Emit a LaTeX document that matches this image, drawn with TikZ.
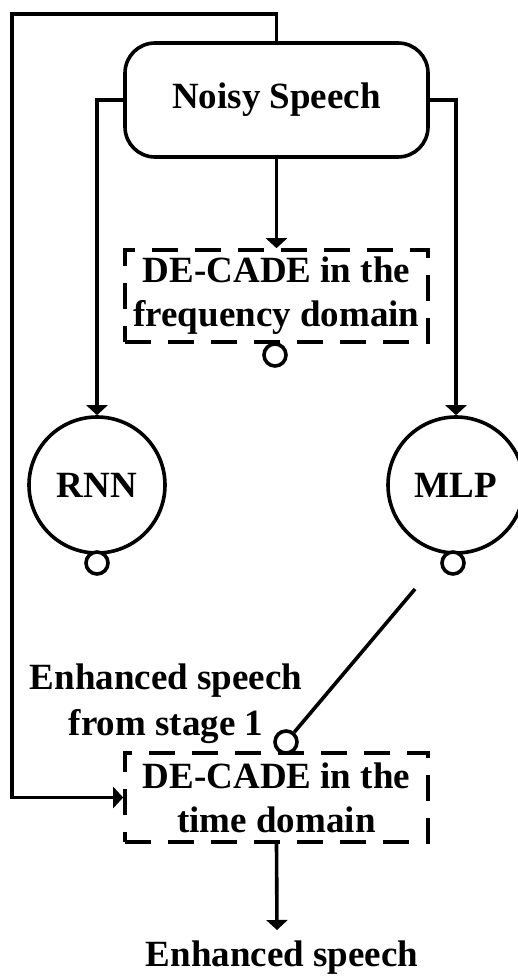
\documentclass[tikz,border=0pt]{standalone}
\usepackage{fontspec}
\setmainfont{Liberation Serif}
\usetikzlibrary{arrows.meta}
\begin{document}
\begin{tikzpicture}[x=1pt,y=-1pt,
  every node/.style={font=\fontsize{37}{44}\selectfont\bfseries, inner sep=0pt},
  wire/.style={line width=3.6pt},
  arr/.style={wire, -{Triangle[length=10pt,width=21pt]}},
  startbox/.style={draw, line width=3.6pt, rounded corners=30pt,
    minimum width=303pt, minimum height=114pt},
  stagebox/.style={draw, line width=3.6pt, dash pattern=on 26pt off 17pt,
    minimum width=303pt, align=center},
  netnode/.style={draw, circle, line width=3.6pt, minimum size=136pt},
  port/.style={draw, circle, line width=3.6pt, minimum size=22pt, fill=white}]
\useasboundingbox (0,0) rectangle (517,976);

% blocks
\node[startbox] (noisy) at (276.5,100) {Noisy Speech};
\node[stagebox, minimum height=92pt] (freq) at (276.5,296) {DE-CADE in the\\frequency domain};
\node[netnode] (rnn) at (97,485) {RNN};
\node[netnode] (mlp) at (456,485) {MLP};
\node[stagebox, minimum height=89pt] (time) at (276.5,797.5) {DE-CADE in the\\time domain};

% output ports
\node[port] (fport) at (275,355) {};
\node[port] (rport) at (97,563) {};
\node[port] (mport) at (453,563) {};
\node[port] (tport) at (286,742) {};

% labels
\node[align=center, font=\fontsize{37}{46}\selectfont\bfseries] (stagelbl) at (166,704) {Enhanced speech\\from stage 1};
\node[anchor=base] (out) at (282,966) {Enhanced speech};

% auxiliary points
\coordinate (fbcorner) at (12,14);
\coordinate (mlpout) at (415,589);
\coordinate (outtip) at (277,930);

% connectors
\draw[arr] (noisy.south) -- (freq.north);
\draw[arr] (noisy.west) -| (rnn.north);
\draw[arr] (noisy.east) -| (mlp.north);
\draw[arr] (noisy.north) |- (fbcorner) |- (time.west);
\draw[wire] (mlpout) -- (tport);
\draw[arr] (time.south) -- (outtip);
\end{tikzpicture}
\end{document}
